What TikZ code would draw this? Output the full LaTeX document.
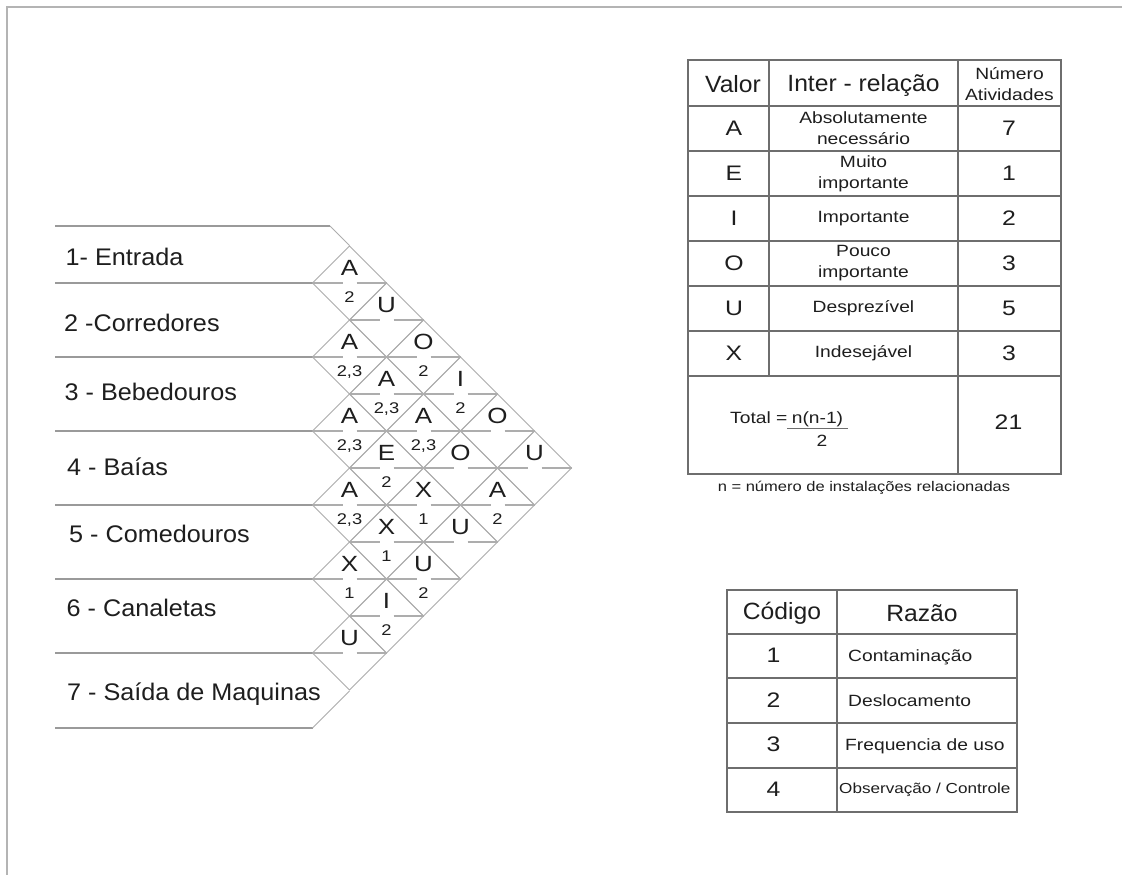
\documentclass[tikz,border=0pt]{standalone}
\usepackage{fontspec}
\setmainfont{Liberation Sans}
\newfontfamily\labfont[FakeStretch=1.05]{Liberation Sans}
\newfontfamily\widefont[FakeStretch=1.18]{Liberation Sans}
\definecolor{framegray}{HTML}{B4B4B4}
\definecolor{linegray}{HTML}{9A9A9A}
\definecolor{diagray}{HTML}{ADADAD}
\definecolor{tabgray}{HTML}{6E6E6E}
\definecolor{inkgray}{HTML}{1E1E1E}

\begin{document}
\begin{tikzpicture}[x=1pt,y=-1pt,
  rowline/.style={draw=linegray,line width=1.4pt},
  diaedge/.style={draw=diagray,line width=1pt},
  midline/.style={draw=diagray,line width=1.6pt,dash pattern=on 30pt off 14pt},
  tabline/.style={draw=tabgray,line width=1.2pt},
  rowlab/.style={anchor=base west,inner sep=0pt,text=inkgray,font=\labfont\fontsize{24}{28}\selectfont},
  rellab/.style={anchor=base,inner sep=0pt,text=inkgray,font=\widefont\fontsize{22}{26}\selectfont},
  whylab/.style={anchor=base,inner sep=0pt,text=inkgray,font=\widefont\fontsize{15.5}{18}\selectfont},
  bigtxt/.style={inner sep=0pt,text=inkgray,font=\labfont\fontsize{23.5}{27}\selectfont},
  midtxt/.style={inner sep=0pt,text=inkgray,font=\widefont\fontsize{21}{25}\selectfont},
  smalltxt/.style={inner sep=0pt,text=inkgray,align=center,font=\widefont\fontsize{16.3}{21}\selectfont},
  notetxt/.style={inner sep=0pt,text=inkgray,font=\widefont\fontsize{14}{17}\selectfont}]
\useasboundingbox (0,0) rectangle (1122,875);
\fill[white] (0,0) rectangle (1122,875);
\draw[framegray,line width=2.4pt] (7,875) -- (7,7) -- (1122,7);

\draw[rowline] (55,226) -- (330,226);
\draw[diaedge] (330,226) -- (349.5,245.5);
\foreach \k in {0,...,5}
  \draw[rowline] (55,283+74*\k) -- (312.5,283+74*\k);
\draw[rowline] (55,728) -- (312.5,728);
\draw[diaedge] (312.5,728) -- (349.5,691);

\foreach \i/\j/\rel in {1/2/A,2/3/A,3/4/A,4/5/A,5/6/X,6/7/U,1/3/U,2/4/A,3/5/E,4/6/X,5/7/I,
  1/4/O,2/5/A,3/6/X,4/7/U,1/5/I,2/6/O,3/7/U,1/6/O,2/7/A,1/7/U}{
  \pgfmathsetmacro\cx{312.5+(\j-\i)*37}
  \pgfmathsetmacro\cy{246+(\i+\j-2)*37}
  \draw[diaedge] (\cx-37,\cy) -- (\cx,\cy-37) -- (\cx+37,\cy) -- (\cx,\cy+37) -- cycle;
  \draw[midline] (\cx-37,\cy) -- (\cx+37,\cy);
  \node[rellab] (rel\i\j) at (\cx,\cy-8) {\rel};
}
\foreach \i/\j/\why in {1/2/2,2/3/{2,3},3/4/{2,3},4/5/{2,3},5/6/1,2/4/{2,3},3/5/2,4/6/1,5/7/2,
  1/4/2,2/5/{2,3},3/6/1,4/7/2,1/5/2,2/7/2}{
  \pgfmathsetmacro\cx{312.5+(\j-\i)*37}
  \pgfmathsetmacro\cy{246+(\i+\j-2)*37}
  \node[whylab] (why\i\j) at (\cx,\cy+19) {\why};
}

\node[rowlab] (entrada) at (65.5,265.5) {1- Entrada};
\node[rowlab] (corredores) at (64,331.5) {2 -Corredores};
\node[rowlab] (bebedouros) at (64.5,400) {3 - Bebedouros};
\node[rowlab] (baias) at (67,475.5) {4 - Baías};
\node[rowlab] (comedouros) at (69,542.5) {5 - Comedouros};
\node[rowlab] (canaletas) at (66.5,616) {6 - Canaletas};
\node[rowlab] (saida) at (67,700) {7 - Saída de Maquinas};

\draw[tabline] (688,60) rectangle (1061,474);
\draw[tabline] (769,60) -- (769,376);
\draw[tabline] (958,60) -- (958,474);
\foreach \y in {106,151,196,241,286,331,376}
  \draw[tabline] (688,\y) -- (1061,\y);
\node[bigtxt] (valor) at (733,84) {Valor};
\node[bigtxt] (inter) at (863.5,85) {Inter - relação};
\node[smalltxt] (numero) at (1009.5,84) {Número\\Atividades};
\foreach \val/\desc/\qty [count=\k] in {A/{Absolutamente\\necessário}/7,E/{Muito\\importante}/1,
  I/Importante/2,O/{Pouco\\importante}/3,U/Desprezível/5,X/Indesejável/3}{
  \node[midtxt] (val\k) at (734,83.5+45*\k) {\val};
  \node[smalltxt] (desc\k) at (863.5,83.5+45*\k) {\desc};
  \node[midtxt] (qty\k) at (1009,83.5+45*\k) {\qty};
}
\node[smalltxt,anchor=base west] (total) at (730,423) {Total =};
\node[smalltxt,anchor=base] (frnum) at (817.5,423) {n(n-1)};
\draw[tabline,line width=1pt] (787,428.5) -- (848,428.5);
\node[smalltxt,anchor=base] (frden) at (822,446.5) {2};
\node[midtxt] (sum) at (1008.5,422) {21};
\node[notetxt] (note) at (864,488) {n = número de instalações relacionadas};

\draw[tabline] (727,590) rectangle (1017,812);
\draw[tabline] (837,590) -- (837,812);
\foreach \y in {634,678,723,768}
  \draw[tabline] (727,\y) -- (1017,\y);
\node[bigtxt] (codigo) at (782,613) {Código};
\node[bigtxt] (razao) at (922,613) {Razão};
\foreach \k in {1,...,4}
  \node[midtxt] (cod\k) at (773.5,611+44.5*\k) {\k};
\node[smalltxt,anchor=west] (contam) at (848,657) {Contaminação};
\node[smalltxt,anchor=west] (desloc) at (848,701) {Deslocamento};
\node[smalltxt,anchor=west] (freq) at (845,746) {Frequencia de uso};
\node[smalltxt,anchor=west,font=\widefont\fontsize{14.5}{17}\selectfont] (obs) at (839,790) {Observação / Controle};
\end{tikzpicture}
\end{document}
